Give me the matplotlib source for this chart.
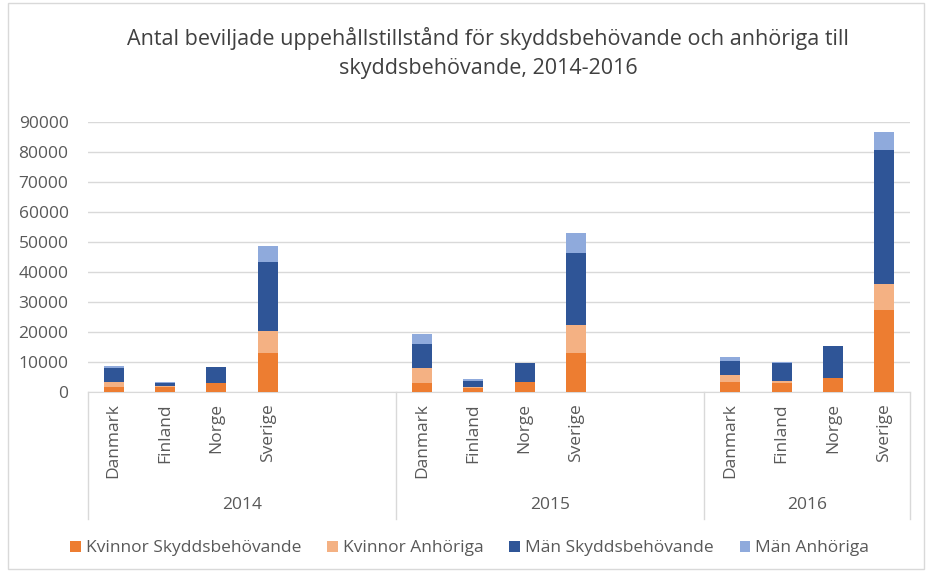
import numpy as np
import matplotlib
matplotlib.use("Agg")
import matplotlib.pyplot as plt
import matplotlib.transforms as mtransforms
from matplotlib.patches import Rectangle

plt.rcParams['font.family'] = ['Open Sans', 'DejaVu Sans']

# data
years = ['2014', '2015', '2016']
countries = ['Danmark', 'Finland', 'Norge', 'Sverige']
# Excel's category axis leaves empty slots after 2014 and 2015
slots_per_year = [6, 6, 4]

series = ['Kvinnor Skyddsbehövande', 'Kvinnor Anhöriga',
          'Män Skyddsbehövande', 'Män Anhöriga']
colors = ['#ED7D31', '#F4B183', '#2F5597', '#8FAADC']

# values per year, countries in order Danmark, Finland, Norge, Sverige
kvinnor_skydd = [1600, 1500, 2900, 12900,
                 3000, 1200, 3200, 12900,
                 3300, 3100, 4700, 27200]
kvinnor_anh = [1600, 500, 100, 7300,
               4900, 600, 100, 9300,
               2200, 500, 100, 8800]
man_skydd = [4700, 900, 5300, 23000,
             8100, 1700, 6200, 24000,
             4700, 6200, 10400, 44600]
man_anh = [600, 300, 100, 5600,
           3200, 800, 100, 6700,
           1500, 200, 100, 6200]

# x positions of the bars
x = []
start = 0
for n in slots_per_year:
    x.extend(range(start, start + len(countries)))
    start += n
x = np.array(x)
total_slots = sum(slots_per_year)

fig = plt.figure(figsize=(9.3, 5.72), dpi=100)
ax = fig.add_axes([0.0946, 0.3147, 0.8839, 0.472])

bottom = np.zeros(len(x))
for vals, name, c in zip([kvinnor_skydd, kvinnor_anh, man_skydd, man_anh], series, colors):
    ax.bar(x, vals, bottom=bottom, width=0.39, color=c, label=name, zorder=3)
    bottom += np.array(vals)

ax.set_xlim(-0.5, total_slots - 0.5)
ax.set_ylim(0, 90000)
ax.set_yticks(np.arange(0, 90001, 10000))
ax.yaxis.grid(True, color='#D9D9D9', linewidth=1, zorder=0)
ax.tick_params(axis='y', length=0, labelsize=12.5, colors='#595959', pad=14)

ax.set_xticks(x)
ax.set_xticklabels(countries * len(years), rotation=90, va='top')
ax.tick_params(axis='x', length=0, labelsize=12.5, colors='#595959', pad=8)

for s in ['top', 'right', 'left']:
    ax.spines[s].set_visible(False)
ax.spines['bottom'].set_color('#D9D9D9')

# group separators and year labels under the axis
trans = mtransforms.blended_transform_factory(ax.transData, ax.transAxes)
edges = np.concatenate([[0], np.cumsum(slots_per_year)]) - 0.5
for e in edges:
    ax.plot([e, e], [0, -0.472], transform=trans, color='#D9D9D9',
            linewidth=1, clip_on=False)
for i, yr in enumerate(years):
    mid = (edges[i] + edges[i + 1]) / 2
    ax.text(mid, -0.42, yr, transform=trans, ha='center', va='center',
            fontsize=12.5, color='#595959')

fig.suptitle('Antal beviljade uppehållstillstånd för skyddsbehövande och anhöriga till\n'
             'skyddsbehövande, 2014-2016', x=0.525, y=0.952, fontsize=15.5,
             color='#404040', linespacing=1.5)

ax.legend(loc='center', bbox_to_anchor=(0.505, 0.0415), bbox_transform=fig.transFigure,
          ncol=4, frameon=False, fontsize=12.5, handlelength=0.6, handleheight=0.6,
          handletextpad=0.3, columnspacing=1.5, labelcolor='#595959')

# thin chart border
fig.patches.append(Rectangle((0.009, 0.005), 0.985, 0.99, transform=fig.transFigure,
                             fill=False, edgecolor='#D9D9D9', linewidth=1))

fig.savefig('out.png', dpi=100)
